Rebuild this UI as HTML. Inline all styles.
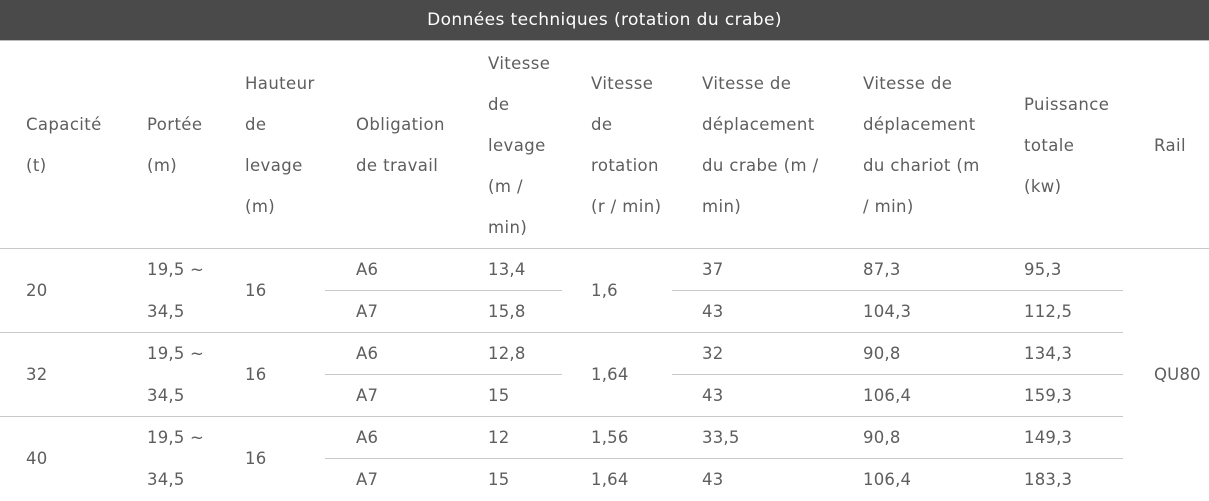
<!DOCTYPE html>
<html><head><meta charset="utf-8"><style>
body{margin:0;width:1209px;height:497px;background:#fff;overflow:hidden;font-family:"DejaVu Sans","Liberation Sans",sans-serif;color:#5e5e5e;position:relative}
.bar{position:absolute;left:0;top:0;width:1209px;height:40px;background:#4a4a4a;color:#fff;font-size:17px;letter-spacing:0.4px;line-height:40px;text-align:center}
.h{position:absolute;font-size:16.5px;letter-spacing:0.4px;line-height:41px;display:flex;align-items:center;top:42px;height:206px}
.c{position:absolute;font-size:16.5px;letter-spacing:0.2px;height:42px;line-height:42px;white-space:nowrap}
.l{position:absolute;height:1px;background:#c8c8c8}
</style></head><body>
<div class="bar">Données techniques (rotation du crabe)</div>
<div class="l" style="left:0;top:40px;width:1209px;background:#bbb"></div>
<div class="h" style="left:26px"><div>Capacité<br>(t)</div></div>
<div class="h" style="left:147px"><div>Portée<br>(m)</div></div>
<div class="h" style="left:245px"><div>Hauteur<br>de<br>levage<br>(m)</div></div>
<div class="h" style="left:356px"><div>Obligation<br>de travail</div></div>
<div class="h" style="left:488px"><div>Vitesse<br>de<br>levage<br>(m /<br>min)</div></div>
<div class="h" style="left:591px"><div>Vitesse<br>de<br>rotation<br>(r / min)</div></div>
<div class="h" style="left:702px"><div>Vitesse de<br>déplacement<br>du crabe (m /<br>min)</div></div>
<div class="h" style="left:863px"><div>Vitesse de<br>déplacement<br>du chariot (m<br>/ min)</div></div>
<div class="h" style="left:1024px"><div>Puissance<br>totale<br>(kw)</div></div>
<div class="h" style="left:1154px"><div>Rail</div></div>

<div class="l" style="left:0;top:248px;width:1209px"></div>
<div class="l" style="left:0;top:332px;width:1123px"></div>
<div class="l" style="left:0;top:416px;width:1123px"></div>
<div class="l" style="left:325px;top:290px;width:237px"></div>
<div class="l" style="left:672px;top:290px;width:451px"></div>
<div class="l" style="left:325px;top:374px;width:237px"></div>
<div class="l" style="left:672px;top:374px;width:451px"></div>
<div class="l" style="left:325px;top:458px;width:798px"></div>

<script>
const caps=["20","32","40"];
const rot=[["1,6"],["1,64"],["1,56","1,64"]];
const lev=[["13,4","15,8"],["12,8","15"],["12","15"]];
const crabe=[["37","43"],["32","43"],["33,5","43"]];
const chariot=[["87,3","104,3"],["90,8","106,4"],["90,8","106,4"]];
const puis=[["95,3","112,5"],["134,3","159,3"],["149,3","183,3"]];
const root=document.body;
function cell(x,y,t,name){const d=document.createElement('div');d.className='c';d.style.left=x+'px';d.style.top=(y-21)+'px';d.textContent=t;


root.appendChild(d);}
caps.forEach((c,i)=>{const y0=270+i*84,y1=y0+42,ym=y0+21;
cell(26,ym,c,'capacite-cell');cell(147,y0,'19,5 ~','portee-cell');cell(147,y1,'34,5','portee-cell');cell(245,ym,'16','hauteur-cell');
cell(356,y0,'A6','obligation-cell');cell(356,y1,'A7','obligation-cell');
cell(488,y0,lev[i][0],'levage-cell');cell(488,y1,lev[i][1],'levage-cell');
if(rot[i].length===1)cell(591,ym,rot[i][0],'rotation-cell');else{cell(591,y0,rot[i][0],'rotation-cell');cell(591,y1,rot[i][1],'rotation-cell');}
cell(702,y0,crabe[i][0],'crabe-cell');cell(702,y1,crabe[i][1],'crabe-cell');
cell(863,y0,chariot[i][0],'chariot-cell');cell(863,y1,chariot[i][1],'chariot-cell');
cell(1024,y0,puis[i][0],'puissance-cell');cell(1024,y1,puis[i][1],'puissance-cell');});
cell(1154,375,'QU80','rail-cell');
</script>
</body></html>
